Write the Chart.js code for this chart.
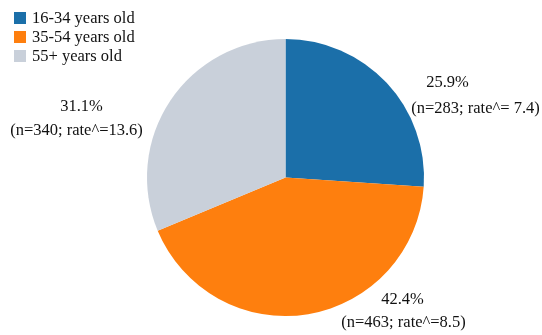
<!DOCTYPE html>
<html>
<head>
<meta charset="utf-8">
<script src="https://cdn.jsdelivr.net/npm/chart.js@4"></script>
<style>
html, body { margin: 0; padding: 0; background: #fff; }
#wrap { width: 542px; height: 335px; position: relative; }
</style>
</head>
<body>
<div id="wrap"><canvas id="ageChart"></canvas></div>
<script>
// AGE GROUP SHARE PIE

const ageGroups = ["16-34 years old", "35-54 years old", "55+ years old"];
const sharePct = [25.9, 42.4, 31.1];
const counts = [283, 463, 340];
const rates = [" 7.4", "8.5", "13.6"];
const sliceColors = ["#1b6fa9", "#fe7f0e", "#c9d0da"];

const FONT = "16.5px 'Liberation Serif', 'Times New Roman', serif";

// offsets of each label block from the pie centre: [line1 dx, dy, line2 dx, dy]
const labelOffsets = [
  [162, -95, 190, -69],
  [117, 122, 118, 145],
  [-204, -71, -209, -47]
];

// legend in the top-left corner
const legendBox = {
  id: "legendBox",
  afterDraw(chart) {
    const ctx = chart.ctx;
    ctx.save();
    ctx.font = FONT;
    ctx.textBaseline = "middle";
    ctx.textAlign = "left";
    ageGroups.forEach((name, i) => {
      const y = 18 + i * 19;
      ctx.fillStyle = sliceColors[i];
      ctx.fillRect(14, y - 6, 12, 12);
      ctx.fillStyle = "#111";
      ctx.fillText(name, 32, y + 1);
    });
    ctx.restore();
  }
};

// percent + count/rate labels beside each slice
const sliceLabels = {
  id: "sliceLabels",
  afterDatasetsDraw(chart) {
    const ctx = chart.ctx;
    const arcs = chart.getDatasetMeta(0).data;
    ctx.save();
    ctx.font = FONT;
    ctx.fillStyle = "#111";
    ctx.textAlign = "center";
    ctx.textBaseline = "middle";
    arcs.forEach((arc, i) => {
      const o = labelOffsets[i];
      ctx.fillText(sharePct[i].toFixed(1) + "%", arc.x + o[0], arc.y + o[1]);
      ctx.fillText("(n=" + counts[i] + "; rate^=" + rates[i] + ")", arc.x + o[2], arc.y + o[3]);
    });
    ctx.restore();
  }
};

new Chart(document.getElementById("ageChart"), {
  type: "pie",
  data: {
    labels: ageGroups,
    datasets: [{
      data: sharePct,
      backgroundColor: sliceColors,
      borderWidth: 0
    }]
  },
  options: {
    responsive: true,
    maintainAspectRatio: false,
    animation: false,
    layout: {
      padding: { left: 147, right: 118, top: 39, bottom: 19 }
    },
    plugins: {
      legend: { display: false },
      tooltip: { enabled: false }
    }
  },
  plugins: [legendBox, sliceLabels]
});
</script>
</body>
</html>
